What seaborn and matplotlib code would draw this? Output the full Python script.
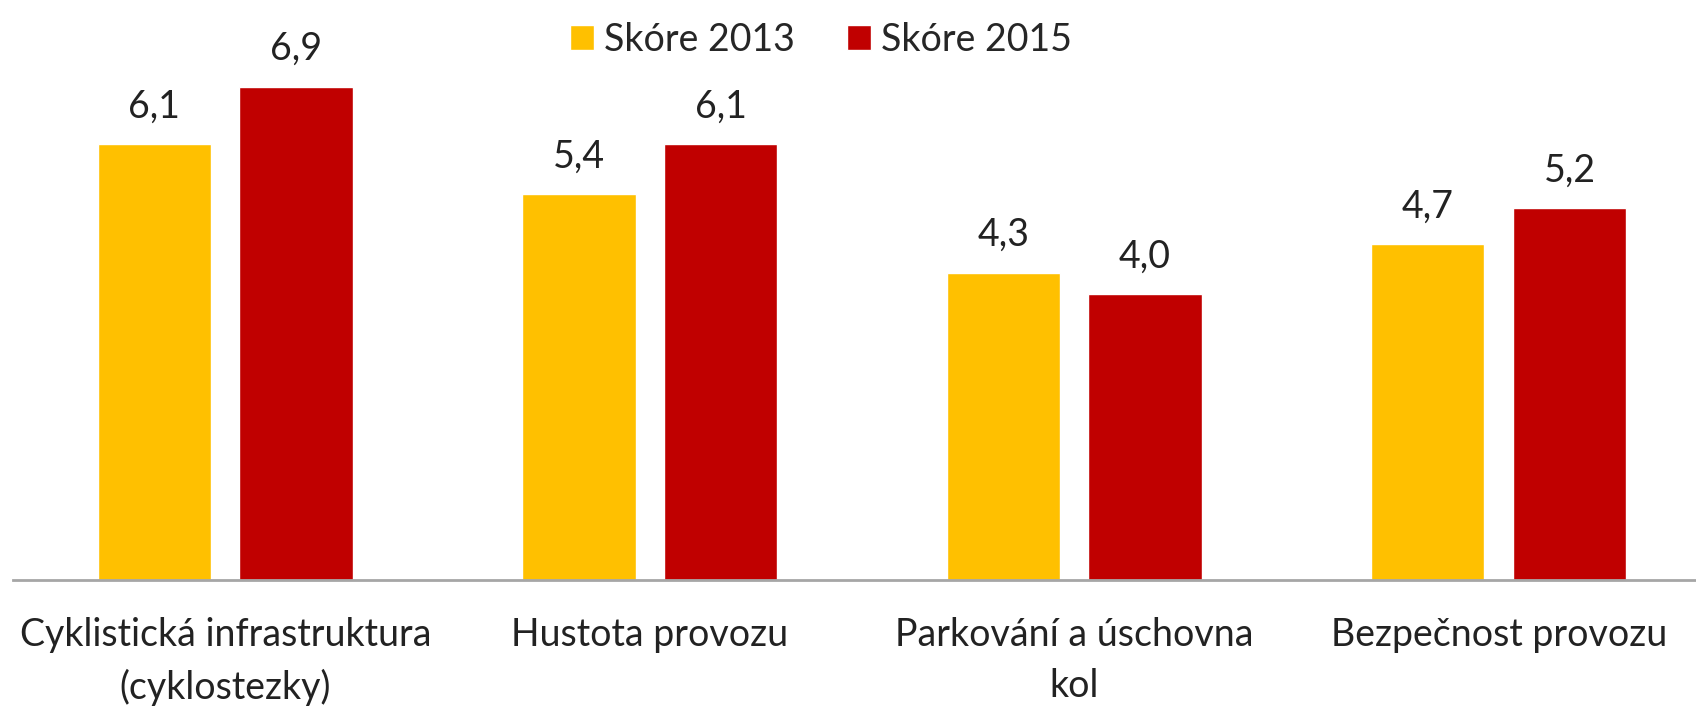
import matplotlib
matplotlib.use("Agg")
import matplotlib.pyplot as plt
import seaborn as sns
import pandas as pd

categories = ["Cyklistická infrastruktura\n(cyklostezky)", "Hustota provozu",
              "Parkování a úschovna\nkol", "Bezpečnost provozu"]
series_names = ["Skóre 2013", "Skóre 2015"]
score_2013 = [6.1, 5.4, 4.3, 4.7]
score_2015 = [6.9, 6.1, 4.0, 5.2]
colors = ["#FFC000", "#C00000"]

df = pd.DataFrame({
    "cat": categories * 2,
    "series": [series_names[0]] * 4 + [series_names[1]] * 4,
    "value": score_2013 + score_2015,
})

sns.set_theme(style="white")
plt.rcParams['font.family'] = ['Lato', 'DejaVu Sans']

fig = plt.figure(figsize=(16.96, 7.08), dpi=100)
ax = fig.add_axes([0.0077, 0.1808, 0.9923, 0.808])
sns.barplot(data=df, x="cat", y="value", hue="series", palette=colors,
            width=0.668, gap=0.2, ax=ax, saturation=1, errorbar=None)

for c in ax.containers:
    ax.bar_label(c, fmt=lambda v: f"{v:.1f}".replace('.', ','), padding=14,
                 fontsize=27, color="#222222")

ax.set_xlim(-0.5, 3.465)
ax.set_ylim(0, 8)
ax.set_xlabel("")
ax.set_ylabel("")
ax.set_yticks([])
for s in ["top", "right", "left"]:
    ax.spines[s].set_visible(False)
ax.spines["bottom"].set_color("#A6A6A6")
ax.spines["bottom"].set_linewidth(2)
ax.tick_params(axis="x", length=0, pad=27, labelsize=27, labelcolor="#222222")
for lbl in ax.get_xticklabels():
    lbl.set_linespacing(1.5)

leg = ax.legend(loc="upper center", bbox_to_anchor=(0.48, 1.035), ncol=2,
                frameon=False, fontsize=27, handlelength=0.65, handleheight=0.65,
                handletextpad=0.25, columnspacing=1.4)
fig.savefig("out.png", dpi=100)
